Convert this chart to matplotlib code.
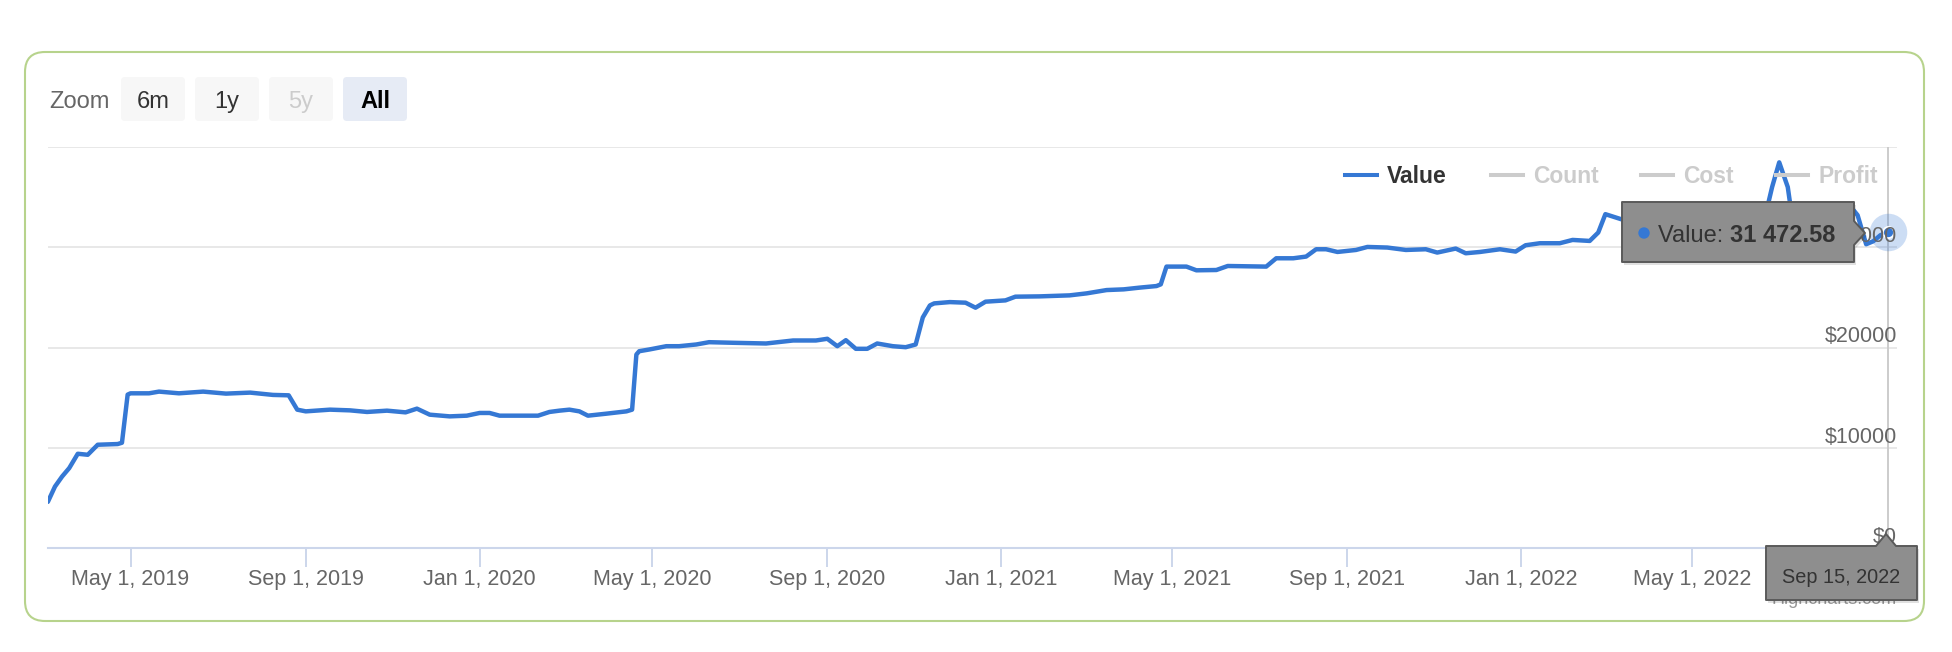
import datetime as dt
import matplotlib
matplotlib.use("Agg")
import matplotlib.pyplot as plt
import matplotlib.dates as mdates
from matplotlib.patches import FancyBboxPatch, Polygon, Circle
from matplotlib.lines import Line2D
from matplotlib.transforms import Affine2D

plt.rcParams['font.family'] = ['Liberation Sans', 'DejaVu Sans']

# ---------------- data ----------------
dates = [
    '2019-03-04', '2019-03-09', '2019-03-14', '2019-03-19', '2019-03-25', '2019-04-01', '2019-04-08', '2019-04-22', '2019-04-25', '2019-04-29',
    '2019-05-01', '2019-05-14', '2019-05-21', '2019-06-04', '2019-06-21', '2019-07-07', '2019-07-24', '2019-08-09', '2019-08-20', '2019-08-26',
    '2019-09-01', '2019-09-18', '2019-10-02', '2019-10-14', '2019-10-28', '2019-11-10', '2019-11-18', '2019-11-27', '2019-12-11', '2019-12-23',
    '2020-01-01', '2020-01-08', '2020-01-15', '2020-02-11', '2020-02-19', '2020-02-26', '2020-03-04', '2020-03-11', '2020-03-17', '2020-03-30',
    '2020-04-13', '2020-04-17', '2020-04-20', '2020-04-22', '2020-04-29', '2020-05-11', '2020-05-20', '2020-06-01', '2020-06-10', '2020-06-27',
    '2020-07-20', '2020-08-08', '2020-08-24', '2020-09-01', '2020-09-08', '2020-09-14', '2020-09-21', '2020-09-29', '2020-10-06', '2020-10-17',
    '2020-10-26', '2020-11-02', '2020-11-07', '2020-11-12', '2020-11-15', '2020-11-26', '2020-12-07', '2020-12-14', '2020-12-21', '2021-01-04',
    '2021-01-11', '2021-01-28', '2021-02-18', '2021-03-02', '2021-03-16', '2021-03-28', '2021-04-08', '2021-04-20', '2021-04-23', '2021-04-27',
    '2021-05-11', '2021-05-18', '2021-06-01', '2021-06-09', '2021-07-06', '2021-07-13', '2021-07-25', '2021-08-03', '2021-08-10', '2021-08-17',
    '2021-08-25', '2021-09-07', '2021-09-15', '2021-09-29', '2021-10-12', '2021-10-26', '2021-11-03', '2021-11-16', '2021-11-23', '2021-12-03',
    '2021-12-17', '2021-12-28', '2022-01-04', '2022-01-14', '2022-01-28', '2022-02-06', '2022-02-18', '2022-02-24', '2022-03-01', '2022-03-12',
    '2022-04-08', '2022-05-06', '2022-06-03', '2022-06-21', '2022-06-26', '2022-07-01', '2022-07-07', '2022-07-10', '2022-07-23', '2022-08-09',
    '2022-08-21', '2022-08-25', '2022-08-31', '2022-09-05', '2022-09-10', '2022-09-15',
]
values = [
    4600, 6130, 7130, 7970, 9400, 9300, 10300, 10370, 10500, 15300,
    15430, 15430, 15600, 15430, 15600, 15400, 15500, 15270, 15230, 13800,
    13630, 13800, 13730, 13570, 13700, 13530, 13900, 13300, 13130, 13200,
    13470, 13470, 13200, 13200, 13570, 13700, 13800, 13630, 13200, 13400,
    13630, 13800, 19300, 19630, 19800, 20130, 20130, 20300, 20530, 20470,
    20400, 20700, 20700, 20870, 20130, 20730, 19870, 19870, 20400, 20130,
    20030, 20300, 23000, 24200, 24400, 24530, 24470, 23970, 24570, 24700,
    25070, 25100, 25200, 25400, 25730, 25800, 25970, 26130, 26300, 28070,
    28070, 27700, 27730, 28130, 28070, 28900, 28900, 29070, 29800, 29800,
    29530, 29730, 30030, 29970, 29730, 29800, 29470, 29870, 29400, 29530,
    29800, 29570, 30200, 30400, 30400, 30730, 30630, 31470, 33300, 32800,
    32500, 32300, 32600, 33000, 36000, 38470, 36000, 33000, 32500, 33300,
    33900, 33200, 30300, 30600, 31200, 31472.58,
]
series_names = ['Value', 'Count', 'Cost', 'Profit']
xtick_dates = ['2019-05-01', '2019-09-01', '2020-01-01', '2020-05-01', '2020-09-01',
               '2021-01-01', '2021-05-01', '2021-09-01', '2022-01-01', '2022-05-01']
xtick_labels = ['May 1, 2019', 'Sep 1, 2019', 'Jan 1, 2020', 'May 1, 2020', 'Sep 1, 2020',
                'Jan 1, 2021', 'May 1, 2021', 'Sep 1, 2021', 'Jan 1, 2022', 'May 1, 2022']
ygrid_values = [0, 10000, 20000, 30000, 40000]
ytick_labels = ['$0', '$10000', '$20000', '$30000']
zoom_buttons = ['6m', '1y', '5y', 'All']
tooltip_label = 'Value: '
tooltip_value = '31 472.58'
tooltip_date = 'Sep 15, 2022'
credit_text = 'Highcharts.com'

# ---------------- styling ----------------
BLUE = '#3578d4'
GRID = '#e6e6e6'
AXIS = '#ccd6eb'
LABEL = '#666666'
TEXT = '#333333'
HIDDEN = '#cccccc'

W, H = 1952, 652
fig = plt.figure(figsize=(W / 100, H / 100), dpi=100)
PX = Affine2D().scale(1 / W, -1 / H).translate(0, 1) + fig.transFigure  # pixel coords, origin top-left

# outer frame
fig.add_artist(FancyBboxPatch((25, 52), 1899, 569, boxstyle='round,pad=0,rounding_size=20',
                              transform=PX, fill=False, ec='#b7d38c', lw=1.5, zorder=1))

# axes
L, R, T, B = 48, 1897, 147, 548
ax = fig.add_axes([L / W, 1 - B / H, (R - L) / W, (B - T) / H])
ax.set_facecolor('none')
x = [mdates.date2num(dt.datetime.strptime(d, '%Y-%m-%d')) for d in dates]
d0 = mdates.date2num(dt.datetime(2019, 5, 1))
ppd = 1.425
ax.set_xlim(d0 + (L - 130.5) / ppd, d0 + (R - 130.5) / ppd)
ax.set_ylim(0, 40000)

ax.set_yticks(ygrid_values)
ax.tick_params(axis='y', length=0, labelleft=False, labelright=False)
ax.yaxis.grid(True, color=GRID, lw=1.3)
ax.set_axisbelow(True)
for s in ['top', 'left', 'right']:
    ax.spines[s].set_visible(False)
ax.spines['bottom'].set_color(AXIS)
ax.spines['bottom'].set_linewidth(1.5)
ax.spines['bottom'].set_zorder(2.5)

xt = [mdates.date2num(dt.datetime.strptime(d, '%Y-%m-%d')) for d in xtick_dates]
ax.set_xticks(xt)
ax.set_xticklabels(xtick_labels)
ax.tick_params(axis='x', length=13.5, width=1.4, color=AXIS, labelsize=15.5,
               labelcolor=LABEL, pad=13)
for t in ax.get_xticklabels():
    t.set_verticalalignment('baseline')

# crosshair
ax.axvline(x[-1], color='#cccccc', lw=1.4, zorder=2)

# series line
ax.plot(x, values, color=BLUE, lw=3.2, solid_joinstyle='round', solid_capstyle='round', zorder=3)

# hover marker
ax.plot([x[-1]], [values[-1]], 'o', ms=27, color=BLUE, alpha=0.25, mec='none', zorder=5, clip_on=False)
ax.plot([x[-1]], [values[-1]], 'o', ms=8, mfc=BLUE, mec='white', mew=1.3, zorder=6, clip_on=False)

# y labels (right, above gridlines)
for v, lbl in zip(ygrid_values, ytick_labels):
    ax.annotate(lbl, xy=(1, v), xycoords=('axes fraction', 'data'), xytext=(0, 3.6),
                textcoords='offset points', ha='right', va='baseline', fontsize=15.5,
                color=LABEL, zorder=7, annotation_clip=False)

# credits
fig.text(1897, 604, credit_text, transform=PX, ha='right', va='baseline', fontsize=13,
         color='#999999', zorder=2)

# ---------------- range selector ----------------
fig.text(49, 108.3, 'Zoom', transform=PX, ha='left', va='baseline', fontsize=17, color=LABEL, zorder=3)
bx = [121, 195, 269, 343]
for i, (lbl, x0) in enumerate(zip(zoom_buttons, bx)):
    selected = lbl == 'All'
    disabled = lbl == '5y'
    fc = '#e6ebf5' if selected else '#f7f7f7'
    fig.add_artist(FancyBboxPatch((x0, 77), 64, 44, boxstyle='round,pad=0,rounding_size=4',
                                  transform=PX, fc=fc, ec='none', zorder=2))
    color = '#000000' if selected else (HIDDEN if disabled else TEXT)
    fig.text(x0 + 32, 108.3, lbl, transform=PX, ha='center', va='baseline', fontsize=17,
             color=color, fontweight='bold' if selected else 'normal', zorder=3)

# ---------------- legend ----------------
leg_line_x = [1345, 1491, 1641, 1776]
for i, (name, lx) in enumerate(zip(series_names, leg_line_x)):
    col = BLUE if i == 0 else HIDDEN
    tcol = TEXT if i == 0 else HIDDEN
    fig.add_artist(Line2D([lx, lx + 32], [175, 175], transform=PX, color=col, lw=2.9, zorder=12))
    fig.text(lx + 42, 183.2, name, transform=PX, ha='left', va='baseline', fontsize=16.5,
             fontweight='bold', color=tcol, zorder=12)

# ---------------- tooltips ----------------
TT_FC = '#8e8e8e'
TT_EC = '#5a5a5a'
x0, x1, y0, y1 = 1622, 1854, 202, 262
pts = [(x0, y0), (x1, y0), (x1, 221), (1865, 233), (x1, 245), (x1, y1), (x0, y1)]
fig.add_artist(Polygon([(px + 2, py + 3) for px, py in pts], closed=True, transform=PX,
                       fc='black', alpha=0.12, ec='none', zorder=9))
fig.add_artist(Polygon(pts, closed=True, transform=PX, fc=TT_FC, ec=TT_EC, lw=1.4,
                       joinstyle='round', zorder=10))
fig.add_artist(Circle((1644, 233), 5, transform=PX, color=BLUE, zorder=11))
t1 = fig.text(1658, 241.5, tooltip_label, transform=PX, ha='left', va='baseline', fontsize=17,
              color=TEXT, zorder=11)
renderer = fig.canvas.get_renderer()
bb = t1.get_window_extent(renderer=renderer)
fig.text(bb.x1 / W, 1 - 241.5 / H, tooltip_value, ha='left', va='baseline', fontsize=17,
         fontweight='bold', color=TEXT, zorder=11)

x0, x1, y0, y1 = 1766, 1917, 546, 600
pts2 = [(x0, y0), (1876, y0), (1886, 534), (1896, y0), (x1, y0), (x1, y1), (x0, y1)]
fig.add_artist(Polygon([(px + 2, py + 3) for px, py in pts2], closed=True, transform=PX,
                       fc='black', alpha=0.12, ec='none', zorder=9))
fig.add_artist(Polygon(pts2, closed=True, transform=PX, fc=TT_FC, ec=TT_EC, lw=1.4,
                       joinstyle='round', zorder=10))
fig.text((x0 + x1) / 2, 583.3, tooltip_date, transform=PX, ha='center', va='baseline',
         fontsize=14.3, color=TEXT, zorder=11)

fig.savefig('out.png', dpi=100, facecolor='white')
